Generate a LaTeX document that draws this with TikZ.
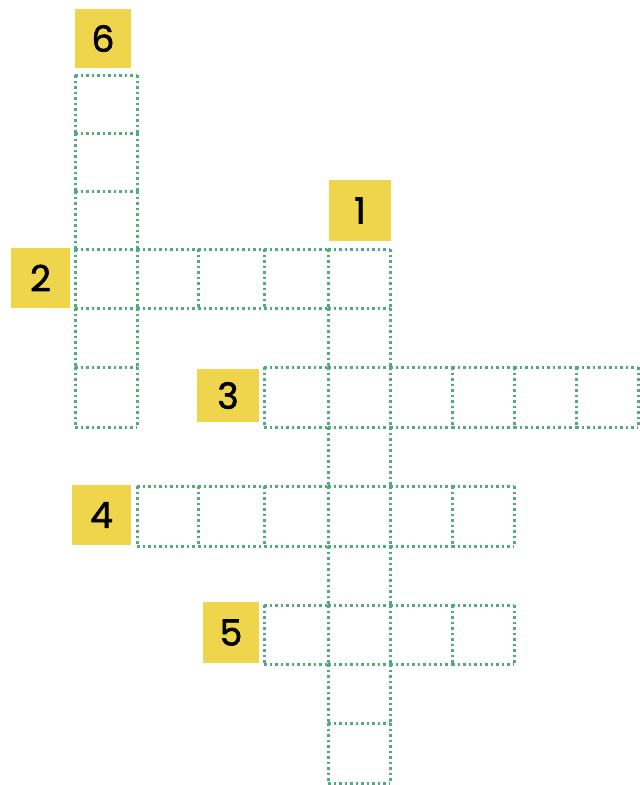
\documentclass[tikz,border=0pt]{standalone}
\usepackage{fontspec}
\setmainfont{Poppins}
\newfontfamily\numfont{Poppins}[FakeBold=1.8]
\definecolor{dotgreen}{RGB}{80,172,126}
\definecolor{labelyellow}{RGB}{239,213,76}
\tikzset{
  cellbox/.style={rectangle, inner sep=0pt, outer sep=0pt},
  dotline/.style={draw=dotgreen, line width=3pt, dash pattern=on 2.6pt off 2.9pt},
  numlabel/.style={rectangle, fill=labelyellow, inner sep=0pt, outer sep=0pt,
    font=\numfont\fontsize{36}{36}\selectfont, text=black}
}
\newcommand\mkcell[5]{%
  \node[cellbox, minimum width={(#4-#2)*1pt}, minimum height={(#5-#3)*1pt}]
    (#1) at ({(#2+#4)/2},{(#3+#5)/2}) {};
  \draw[dotline] (#1.north west) -- (#1.north east);
  \draw[dotline] (#1.south west) -- (#1.south east);
  \draw[dotline] (#1.north west) -- (#1.south west);
  \draw[dotline] (#1.north east) -- (#1.south east);
}
\newcommand\mklabel[6]{%
  \node[numlabel, minimum width={(#4-#2)*1pt}, minimum height={(#5-#3)*1pt}]
    (#1) at ({(#2+#4)/2},{(#3+#5)/2}) {#6};
}
\begin{document}
\begin{tikzpicture}[x=1pt,y=-1pt]
\useasboundingbox (0,0) rectangle (640,785);
% column boundaries
\def\cA{75}\def\cB{137}\def\cC{198}\def\cD{264}\def\cE{328}
\def\cF{390}\def\cG{452}\def\cH{514}\def\cI{576}\def\cJ{638}
% row boundaries
\def\rA{75}\def\rB{133}\def\rC{191}\def\rD{249}\def\rE{308}\def\rF{367}
\def\rG{427}\def\rH{486}\def\rI{546}\def\rJ{605}\def\rK{664}\def\rL{723}\def\rM{783}
% word 6 (vertical)
\mkcell{v6a}{\cA}{\rA}{\cB}{\rB}
\mkcell{v6b}{\cA}{\rB}{\cB}{\rC}
\mkcell{v6c}{\cA}{\rC}{\cB}{\rD}
\mkcell{v6d}{\cA}{\rD}{\cB}{\rE}
\mkcell{v6e}{\cA}{\rE}{\cB}{\rF}
\mkcell{v6f}{\cA}{\rF}{\cB}{\rG}
% word 2 (horizontal)
\mkcell{h2b}{\cB}{\rD}{\cC}{\rE}
\mkcell{h2c}{\cC}{\rD}{\cD}{\rE}
\mkcell{h2d}{\cD}{\rD}{\cE}{\rE}
% word 1 (vertical)
\mkcell{v1a}{\cE}{\rD}{\cF}{\rE}
\mkcell{v1b}{\cE}{\rE}{\cF}{\rF}
\mkcell{v1c}{\cE}{\rF}{\cF}{\rG}
\mkcell{v1d}{\cE}{\rG}{\cF}{\rH}
\mkcell{v1e}{\cE}{\rH}{\cF}{\rI}
\mkcell{v1f}{\cE}{\rI}{\cF}{\rJ}
\mkcell{v1g}{\cE}{\rJ}{\cF}{\rK}
\mkcell{v1h}{\cE}{\rK}{\cF}{\rL}
\mkcell{v1i}{\cE}{\rL}{\cF}{\rM}
% word 3 (horizontal)
\mkcell{h3a}{\cD}{\rF}{\cE}{\rG}
\mkcell{h3c}{\cF}{\rF}{\cG}{\rG}
\mkcell{h3d}{\cG}{\rF}{\cH}{\rG}
\mkcell{h3e}{\cH}{\rF}{\cI}{\rG}
\mkcell{h3f}{\cI}{\rF}{\cJ}{\rG}
% word 4 (horizontal)
\mkcell{h4a}{\cB}{\rH}{\cC}{\rI}
\mkcell{h4b}{\cC}{\rH}{\cD}{\rI}
\mkcell{h4c}{\cD}{\rH}{\cE}{\rI}
\mkcell{h4e}{\cF}{\rH}{\cG}{\rI}
\mkcell{h4f}{\cG}{\rH}{\cH}{\rI}
% word 5 (horizontal)
\mkcell{h5a}{\cD}{\rJ}{\cE}{\rK}
\mkcell{h5c}{\cF}{\rJ}{\cG}{\rK}
\mkcell{h5d}{\cG}{\rJ}{\cH}{\rK}
% labels
\mklabel{l6}{75}{9}{131}{68}{6}
\mklabel{l1}{329}{180}{391}{241}{1}
\mklabel{l2}{11}{248}{70}{308}{2}
\mklabel{l3}{197}{369}{259}{422}{3}
\mklabel{l4}{72}{485}{131}{545}{4}
\mklabel{l5}{203}{602}{259}{663}{5}
\end{tikzpicture}
\end{document}
